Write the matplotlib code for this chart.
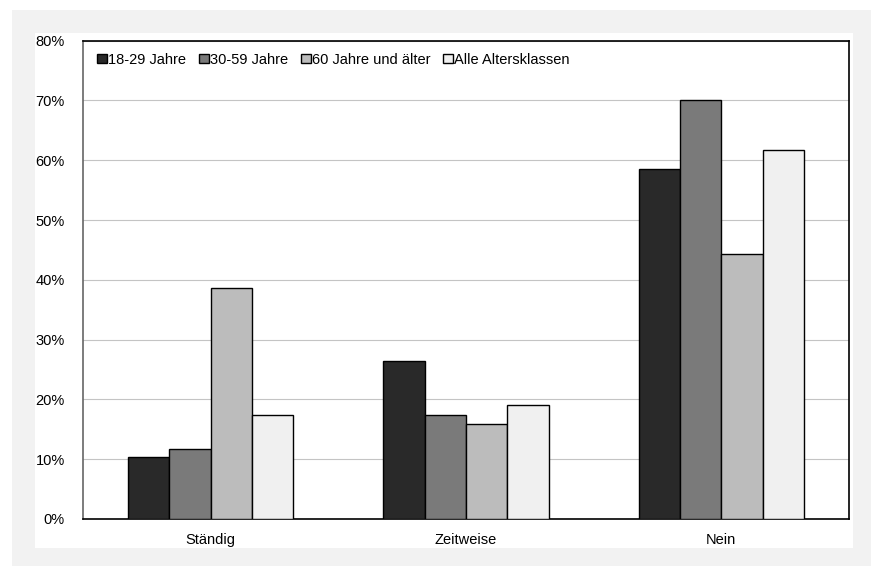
import matplotlib.pyplot as plt
import numpy as np
from matplotlib.patches import Rectangle
from matplotlib.ticker import FuncFormatter

plt.rcParams["font.family"] = ["Liberation Sans", "DejaVu Sans"]
plt.rcParams["font.size"] = 10.5

categories = ["Ständig", "Zeitweise", "Nein"]
series_names = ["18-29 Jahre", "30-59 Jahre", "60 Jahre und älter", "Alle Altersklassen"]
jahre_18_29 = [10.3, 26.5, 58.6]
jahre_30_59 = [11.7, 17.4, 70.0]
jahre_60_plus = [38.6, 15.9, 44.3]
alle = [17.4, 19.1, 61.8]
values = [jahre_18_29, jahre_30_59, jahre_60_plus, alle]
colors = ["#292929", "#7a7a7a", "#bcbcbc", "#f0f0f0"]

W, H = 871, 566
fig = plt.figure(figsize=(W / 100, H / 100), dpi=100)
fig.patch.set_facecolor("white")

# grey frame with white chart panel inside
fig.patches.append(Rectangle((12 / W, 0), 1 - 12 / W, 1 - 10 / H,
                             transform=fig.transFigure, facecolor="#f2f2f2",
                             edgecolor="none", zorder=-2))
fig.patches.append(Rectangle((35 / W, 1 - 548 / H), (853 - 35) / W, (548 - 33) / H,
                             transform=fig.transFigure, facecolor="white",
                             edgecolor="none", zorder=-1))

ax = fig.add_axes([83 / W, 1 - 519 / H, (849 - 83) / W, (519 - 40.7) / H])
ax.set_facecolor("white")

x = np.arange(len(categories))
width = 0.162
for i, (name, vals, c) in enumerate(zip(series_names, values, colors)):
    offset = (i - 1.5) * width
    ax.bar(x + offset, vals, width, color=c, edgecolor="black",
           linewidth=1.0, label=name, zorder=3)

ax.set_xlim(-0.5, len(categories) - 0.5)
ax.set_ylim(0, 80)
ax.set_yticks(np.arange(0, 81, 10))
ax.yaxis.set_major_formatter(FuncFormatter(lambda v, _: f"{v:.0f}%"))
ax.set_xticks(x)
ax.set_xticklabels(categories)
ax.tick_params(axis="both", length=0)
ax.tick_params(axis="y", pad=13)
ax.tick_params(axis="x", pad=10)
ax.grid(axis="y", color="#c4c4c4", linewidth=0.8, zorder=0)

for side in ["top", "right", "bottom"]:
    ax.spines[side].set_color("black")
    ax.spines[side].set_linewidth(1.2)
ax.spines["left"].set_color("#666666")
ax.spines["left"].set_linewidth(1.2)

ax.legend(loc="upper left", bbox_to_anchor=(14 / 766, 0.975), ncol=4,
          frameon=False, borderpad=0, borderaxespad=0,
          handlelength=0.7, handleheight=0.55, handletextpad=0.08,
          columnspacing=0.85)

fig.savefig("out.png", dpi=100)
